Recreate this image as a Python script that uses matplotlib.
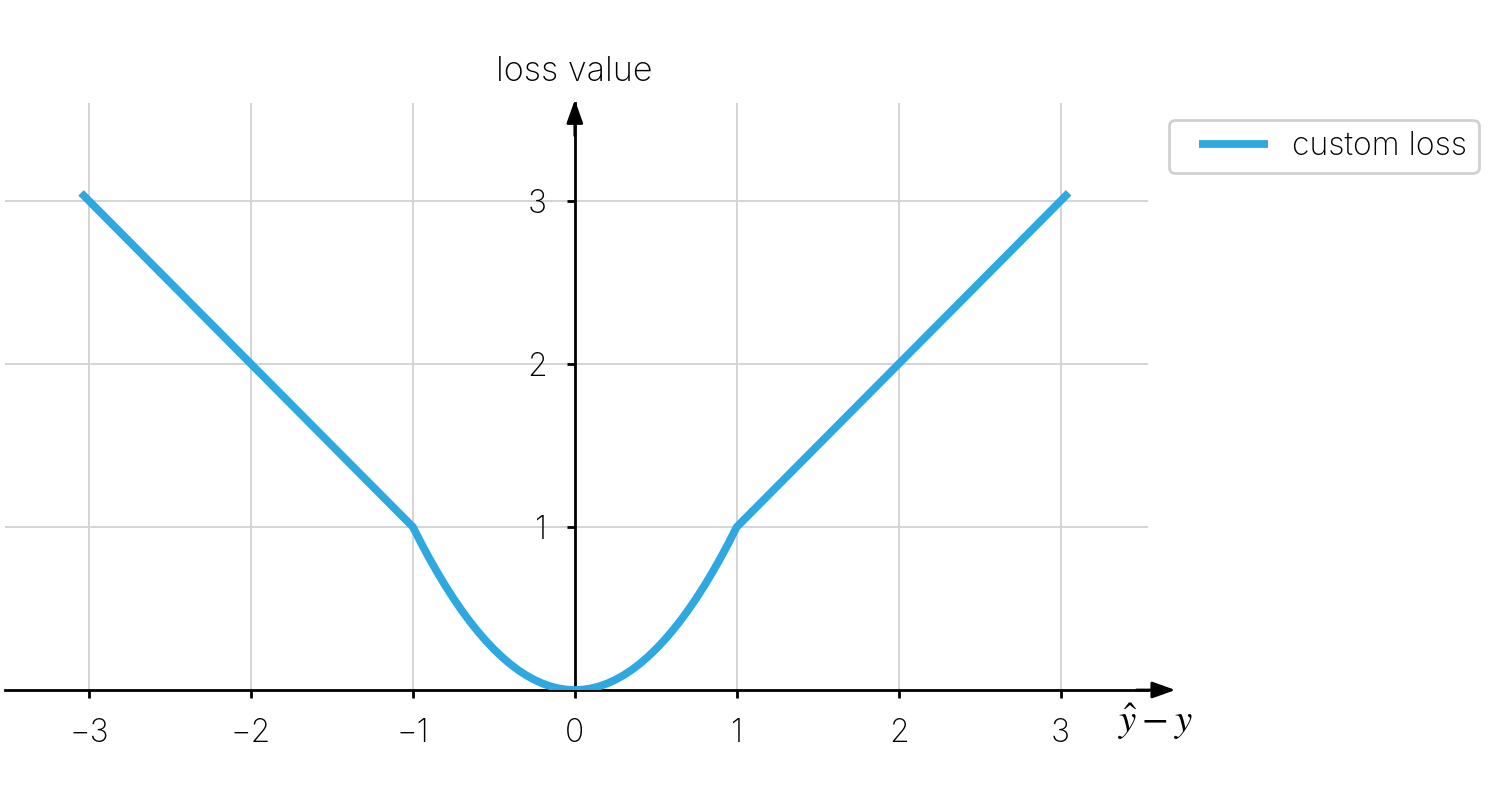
import matplotlib.pyplot as plt
from matplotlib.legend_handler import HandlerLine2D

plt.rcParams["font.family"] = ["Inter", "DejaVu Sans"]
plt.rcParams["font.weight"] = "light"
plt.rcParams["mathtext.fontset"] = "stix"

# 曲線の読み取り値 (|x|<=1 は放物線, それ以外は直線)
error_x = [-3.05, -1.0, -0.95, -0.9, -0.85, -0.8, -0.75, -0.7, -0.65, -0.6, -0.55,
           -0.5, -0.45, -0.4, -0.35, -0.3, -0.25, -0.2, -0.15, -0.1, -0.05, 0.0,
           0.05, 0.1, 0.15, 0.2, 0.25, 0.3, 0.35, 0.4, 0.45, 0.5,
           0.55, 0.6, 0.65, 0.7, 0.75, 0.8, 0.85, 0.9, 0.95, 1.0, 3.05]
loss_y = [3.05, 1.0, 0.9025, 0.81, 0.7225, 0.64, 0.5625, 0.49, 0.4225, 0.36, 0.3025,
          0.25, 0.2025, 0.16, 0.1225, 0.09, 0.0625, 0.04, 0.0225, 0.01, 0.0025, 0.0,
          0.0025, 0.01, 0.0225, 0.04, 0.0625, 0.09, 0.1225, 0.16, 0.2025, 0.25,
          0.3025, 0.36, 0.4225, 0.49, 0.5625, 0.64, 0.7225, 0.81, 0.9025, 1.0, 3.05]
x_ticks = [-3, -2, -1, 0, 1, 2, 3]
y_ticks = [1, 2, 3]
line_label = "custom loss"

fig = plt.figure(figsize=(7.5, 4), dpi=200)
ax = fig.add_axes([0.0033, 0.1375, 0.762, 0.7335])

ax.plot(error_x, loss_y, color="#2ea8e0", lw=2.8, label=line_label,
        solid_capstyle="butt", zorder=3)

ax.set_xlim(-3.52, 3.54)
ax.set_ylim(0, 3.6)
ax.set_xticks(x_ticks)
ax.set_yticks(y_ticks)
ax.set_xticklabels([f"\u2212{abs(t)}" if t < 0 else str(t) for t in x_ticks])
ax.grid(True, color="#d4d4d4", lw=0.7)
ax.set_axisbelow(True)

for s in ["top", "right"]:
    ax.spines[s].set_visible(False)
ax.spines["left"].set_position(("data", 0))
ax.spines["left"].set_linewidth(1.0)
ax.spines["bottom"].set_linewidth(1.0)
ax.tick_params(axis="both", length=3, width=1.0, pad=7, labelsize=11.5)

# 矢印
ax.annotate("", xy=(1.024, 0), xytext=(0.99, 0), xycoords="axes fraction",
            arrowprops=dict(arrowstyle="-|>,head_length=0.7,head_width=0.25",
                            color="black", lw=1.0, shrinkA=0, shrinkB=0))
ax.annotate("", xy=(0, 3.62), xytext=(0, 3.4), xycoords="data",
            arrowprops=dict(arrowstyle="-|>,head_length=0.7,head_width=0.25",
                            color="black", lw=1.0, shrinkA=0, shrinkB=0),
            annotation_clip=False)

fig.text(0.383, 0.91, "loss value", ha="center", va="center", fontsize=12.3)
fig.text(0.77, 0.098, r"$\hat{y} - y$", ha="center", va="center", fontsize=14)

leg = ax.legend(loc="upper left", bbox_to_anchor=(0.779, 0.85),
                bbox_transform=fig.transFigure, borderaxespad=0, fontsize=11.5,
                handlelength=2.78, handletextpad=0.75, borderpad=0.35,
                handler_map={plt.Line2D: HandlerLine2D(xpad=0.6)},
                fancybox=True, framealpha=1)
leg.get_frame().set_edgecolor("#d0d0d0")
leg.get_frame().set_linewidth(1.0)

fig.savefig("out.png", dpi=200)
